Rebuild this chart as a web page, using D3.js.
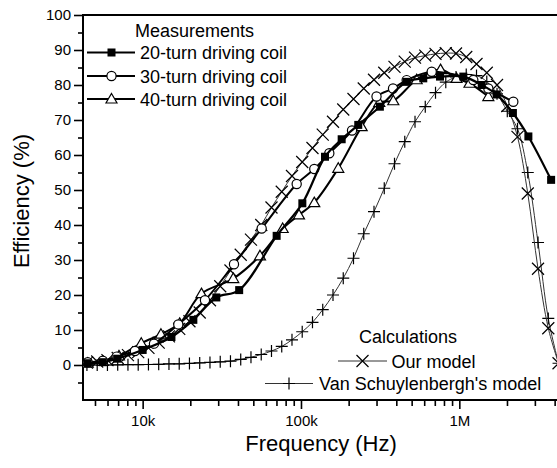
<!DOCTYPE html>
<html><head><meta charset="utf-8">
<script src="https://cdn.jsdelivr.net/npm/d3@7"></script>
<style>body{margin:0;background:#fff} text{font-family:"Liberation Sans",Arial,Helvetica,sans-serif;fill:#000}</style>
</head><body><svg id="c" width="557" height="468"></svg>
<script>
// ---- data ----
const freqModel = [4447,5163,5993,6957,8075,9374,10880,12630,14660,17020,19750,22930,26620,30900,35860,41630,48320,56100,65120,75590,87740,101800,118200,137200,159300,184900,214600,249100,289200,335700,389600,452300,525000,609400,707400,821200,953000,1106000,1284000,1491000,1730000,2009000,2331000,2706000,3141000,3647000,4233000];
const ourModel = [0.7,1.0,1.4,2.0,2.8,3.7,4.9,6.4,8.2,10.3,12.5,15.0,18.5,22.5,27.0,31.5,35.8,40.0,45.0,49.5,54.0,58.0,62.0,65.8,69.5,73.0,76.0,79.0,81.5,83.5,85.2,86.7,87.8,88.4,88.9,89.1,89.0,88.0,86.0,83.5,80.0,74.0,65.2,49.0,27.5,10.5,0.5];
const vsModel = [0,0,0,0.05,0.1,0.1,0.15,0.2,0.3,0.35,0.45,0.6,0.75,0.9,1.1,1.6,2.2,3.0,4.0,5.3,7.2,9.5,12.2,15.8,20.0,24.8,30.5,37.5,43.8,50.5,57.5,63.8,69.5,73.8,77.8,80.8,82.3,83.0,82.7,81.0,77.5,72.5,67.5,55.0,35.0,13.3,0.5];

const freq20 = [4500,5600,6900,10000,15200,20900,29200,40700,70200,102000,141800,180700,230000,315000,465000,592000,755000,1060000,1385000,1720000,2180000,2730000,3800000];
const eff20  = [0.5,0.8,1.8,4.3,8.0,12.9,19.3,21.4,36.9,46.2,59.5,64.5,68.6,73.8,80.9,81.9,82.4,82.4,80.0,77.3,72.0,65.3,52.9];

const freq30 = [4500,5600,6850,8940,11790,16790,24750,37740,56450,93930,121300,151000,210000,299900,381300,465000,669300,1226000,1525000,2193000];
const eff30  = [0.8,1.2,2.4,4.0,6.1,11.6,18.5,28.8,39.0,51.7,56.0,60.5,67.0,76.7,79.0,81.4,83.8,81.4,79.0,75.2];

const freq40 = [4500,5600,7085,9800,13050,17130,23520,37350,55080,76630,97130,121300,172000,241700,312300,382900,538200,760900,960100,1160000,1525000];
const eff40  = [0.5,1.0,2.6,6.2,8.8,11.9,20.4,24.7,31.2,39.0,42.9,46.4,56.2,68.1,75.0,75.5,81.5,84.4,81.9,80.5,76.7];

const yTickValues = [0,10,20,30,40,50,60,70,80,90,100];
const yMinorValues = [-5,5,15,25,35,45,55,65,75,85,95];
const xTickValues = [1e4,1e5,1e6];
const xTickLabels = ["10k","100k","1M"];
const xMinorValues = [5e3,6e3,7e3,8e3,9e3,2e4,3e4,4e4,5e4,6e4,7e4,8e4,9e4,2e5,3e5,4e5,5e5,6e5,7e5,8e5,9e5,2e6,3e6,4e6];

const measLabels = ["20-turn driving coil","30-turn driving coil","40-turn driving coil"];
const calcLabels = ["Our model","Van Schuylenbergh's model"];

// ---- scales ----
const svg = d3.select("#c");
svg.append("rect").attr("width",557).attr("height",468).attr("fill","#fff");
const x = d3.scaleLog().domain([4200, 4.2e6]).range([83, 558]);
const y = d3.scaleLinear().domain([-10, 100]).range([400, 15]);

// ---- axes ----
const gy = svg.append("g").attr("transform","translate(83,0)")
  .call(d3.axisLeft(y).tickValues(yTickValues).tickSize(9).tickPadding(3).tickFormat(d3.format("d")));
const gym = svg.append("g").attr("transform","translate(83,0)")
  .call(d3.axisLeft(y).tickValues(yMinorValues).tickSize(5).tickFormat(""));
const gx = svg.append("g").attr("transform","translate(0,400)")
  .call(d3.axisBottom(x).tickValues(xTickValues).tickSize(9).tickPadding(6).tickFormat((d,i)=>xTickLabels[i]));
const gxm = svg.append("g").attr("transform","translate(0,400)")
  .call(d3.axisBottom(x).tickValues(xMinorValues).tickSize(6).tickFormat(""));
[gy,gym,gx,gxm].forEach(g=>{
  g.select(".domain").remove();
  g.selectAll(".tick line").attr("stroke","#000").attr("stroke-width",1.6);
  g.selectAll(".tick text").attr("font-size",15).attr("font-family","Liberation Sans, Arial, sans-serif").attr("fill","#000");
});
svg.append("line").attr("x1",83).attr("x2",83).attr("y1",14).attr("y2",401).attr("stroke","#000").attr("stroke-width",2);
svg.append("line").attr("x1",82).attr("x2",557).attr("y1",400).attr("y2",400).attr("stroke","#000").attr("stroke-width",2);
svg.append("line").attr("x1",82).attr("x2",557).attr("y1",15).attr("y2",15).attr("stroke","#000").attr("stroke-width",1.8);

svg.append("text").attr("x",321).attr("y",451).attr("text-anchor","middle").attr("font-size",22).text("Frequency (Hz)");
svg.append("text").attr("transform","translate(28.5,201) rotate(-90)").attr("text-anchor","middle").attr("font-size",22).text("Efficiency (%)");

// ---- markers ----
function marker(g, type, cx, cy){
  if(type==="square"){
    g.append("rect").attr("x",cx-4).attr("y",cy-4).attr("width",8).attr("height",8).attr("fill","#000");
  } else if(type==="circle"){
    g.append("circle").attr("cx",cx).attr("cy",cy).attr("r",4.6).attr("fill","#fff").attr("stroke","#000").attr("stroke-width",1.2);
  } else if(type==="triangle"){
    g.append("path").attr("d",`M${cx},${cy-5.5}L${cx+5.5},${cy+4}L${cx-5.5},${cy+4}Z`).attr("fill","#fff").attr("stroke","#000").attr("stroke-width",1.2);
  } else if(type==="cross"){
    g.append("path").attr("d",`M${cx-6},${cy-6}L${cx+6},${cy+6}M${cx-6},${cy+6}L${cx+6},${cy-6}`).attr("stroke","#000").attr("stroke-width",1.2);
  } else if(type==="plus"){
    g.append("path").attr("d",`M${cx-6},${cy}L${cx+6},${cy}M${cx},${cy-6}L${cx},${cy+6}`).attr("stroke","#000").attr("stroke-width",1.2);
  }
}

svg.append("clipPath").attr("id","clip").append("rect").attr("x",83).attr("y",10).attr("width",480).attr("height",389);
const plot = svg.append("g").attr("clip-path","url(#clip)");

function series(fs, vs, type, width, color, curve){
  const pts = fs.map((f,i)=>[x(f), y(vs[i])]);
  plot.append("path").attr("d", d3.line().curve(curve)(pts)).attr("fill","none").attr("stroke",color).attr("stroke-width",width);
  const g = plot.append("g");
  pts.forEach(p=>marker(g,type,p[0],p[1]));
}

series(freqModel, vsModel, "plus", 1, "#333", d3.curveCatmullRom);
series(freqModel, ourModel, "cross", 1, "#333", d3.curveCatmullRom);
series(freq40, eff40, "triangle", 2, "#000", d3.curveCatmullRom.alpha(0.5));
series(freq30, eff30, "circle", 2, "#000", d3.curveCatmullRom.alpha(0.5));
series(freq20, eff20, "square", 2.2, "#000", d3.curveCatmullRom.alpha(0.5));

// ---- legends ----
const lg = svg.append("g");
lg.append("text").attr("x",135).attr("y",37).attr("font-size",18).text("Measurements");
const mTypes = ["square","circle","triangle"];
const mRows = [52.5, 76, 99];
measLabels.forEach((t,i)=>{
  lg.append("line").attr("x1",87).attr("x2",135).attr("y1",mRows[i]).attr("y2",mRows[i]).attr("stroke","#000").attr("stroke-width",2);
  marker(lg, mTypes[i], 111.5, mRows[i]);
  lg.append("text").attr("x",140).attr("y",mRows[i]+6.5).attr("font-size",18).text(t);
});
lg.append("text").attr("x",408).attr("y",343).attr("text-anchor","middle").attr("font-size",18).text("Calculations");
const cRows = [361, 383.5];
const cLine = [[338,387],[265,313]];
const cTypes = ["cross","plus"];
const cText = [391.5, 319];
calcLabels.forEach((t,i)=>{
  lg.append("line").attr("x1",cLine[i][0]).attr("x2",cLine[i][1]).attr("y1",cRows[i]).attr("y2",cRows[i]).attr("stroke","#333").attr("stroke-width",1);
  marker(lg, cTypes[i], (cLine[i][0]+cLine[i][1])/2, cRows[i]);
  lg.append("text").attr("x",cText[i]).attr("y",cRows[i]+6.5).attr("font-size",18).text(t);
});
</script></body></html>
